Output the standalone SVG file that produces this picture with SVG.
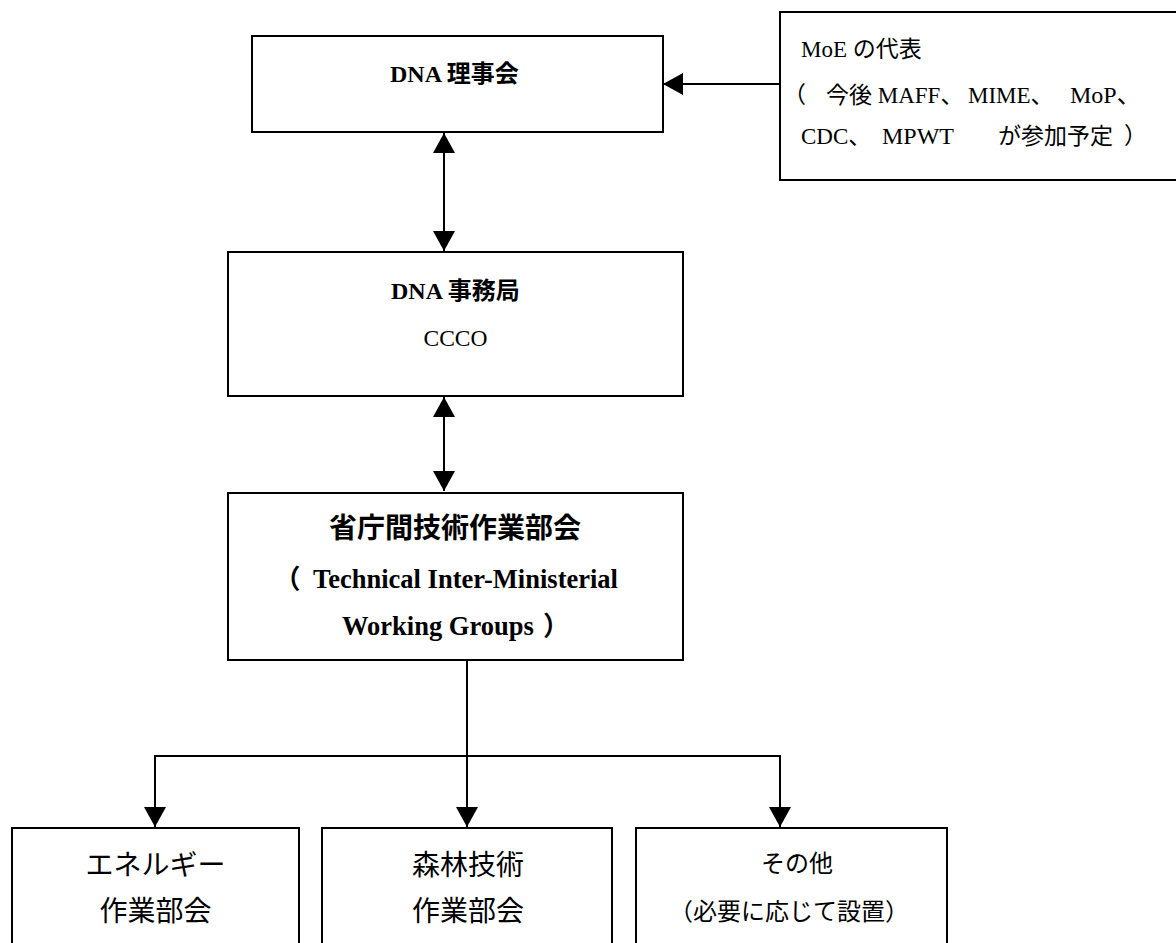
<svg xmlns="http://www.w3.org/2000/svg" width="1176" height="943" viewBox="0 0 1176 943">
<style>
.box{fill:#fff;stroke:#000;stroke-width:2}
.ln{fill:none;stroke:#000;stroke-width:2}
.t{font-family:"Liberation Serif","Noto Sans CJK JP",serif;fill:#000}
.j{font-family:"Noto Sans CJK JP",sans-serif;fill:#000}
.b{font-weight:bold}
</style>
<defs>
<marker id="ah" viewBox="0 0 20 22" refX="20" refY="11" markerWidth="20" markerHeight="22" markerUnits="userSpaceOnUse" orient="auto-start-reverse">
<path d="M0,0 L20,11 L0,22 z" fill="#000"/>
</marker>
</defs>
<rect width="1176" height="943" fill="#fff"/>

<g id="connectors">
<line class="ln" x1="444" y1="133" x2="444" y2="251" marker-start="url(#ah)" marker-end="url(#ah)"/>
<line class="ln" x1="444" y1="397" x2="444" y2="491" marker-start="url(#ah)" marker-end="url(#ah)"/>
<line class="ln" x1="780" y1="84" x2="663" y2="84" marker-end="url(#ah)"/>
<line class="ln" x1="467" y1="660" x2="467" y2="756"/>
<line class="ln" x1="155" y1="756" x2="781" y2="756"/>
<line class="ln" x1="155" y1="755" x2="155" y2="827" marker-end="url(#ah)"/>
<line class="ln" x1="467" y1="756" x2="467" y2="827" marker-end="url(#ah)"/>
<line class="ln" x1="780" y1="755" x2="780" y2="827" marker-end="url(#ah)"/>
</g>

<g id="board">
<rect class="box" x="252" y="36" width="411" height="96"/>
<text class="t b" x="390" y="82" font-size="24">DNA 理事会</text>
</g>

<g id="moe">
<rect class="box" x="780" y="12" width="420" height="168"/>
<text class="t" x="801" y="57" font-size="23">MoE の代表</text>
<text class="t" y="103" font-size="23"><tspan x="783">（</tspan><tspan x="826">今後 MAFF、</tspan><tspan x="968">MIME、</tspan><tspan x="1070" font-size="24">MoP、</tspan></text>
<text class="t" y="144" font-size="23"><tspan x="801">CDC、</tspan><tspan x="882" font-size="24">MPWT</tspan><tspan x="998">が参加予定</tspan><tspan x="1124">）</tspan></text>
</g>

<g id="secretariat">
<rect class="box" x="228" y="252" width="455" height="144"/>
<text class="t b" x="391" y="299" font-size="24">DNA 事務局</text>
<text class="t" x="455.5" y="346" font-size="23.5" text-anchor="middle">CCCO</text>
</g>

<g id="twg">
<rect class="box" x="228" y="493" width="455" height="167"/>
<text class="t b" x="455" y="538" font-size="28" text-anchor="middle">省庁間技術作業部会</text>
<text class="t b" y="588" font-size="26.5"><tspan x="274">（</tspan><tspan x="313">Technical Inter-Ministerial</tspan></text>
<text class="t b" y="635" font-size="26.5"><tspan x="342">Working Groups</tspan><tspan x="543">）</tspan></text>
</g>

<g id="energy">
<rect class="box" x="12" y="828" width="287" height="130"/>
<text class="j" x="155.5" y="875" font-size="28" text-anchor="middle">エネルギー</text>
<text class="j" x="155.5" y="921" font-size="28" text-anchor="middle">作業部会</text>
</g>

<g id="forest">
<rect class="box" x="322" y="828" width="290" height="130"/>
<text class="j" x="468" y="875" font-size="28" text-anchor="middle">森林技術</text>
<text class="j" x="468" y="921" font-size="28" text-anchor="middle">作業部会</text>
</g>

<g id="other">
<rect class="box" x="636" y="828" width="311" height="130"/>
<text class="j" x="797" y="872" font-size="24" text-anchor="middle">その他</text>
<text class="j" x="789" y="920" font-size="24" text-anchor="middle">（必要に応じて設置）</text>
</g>
</svg>
